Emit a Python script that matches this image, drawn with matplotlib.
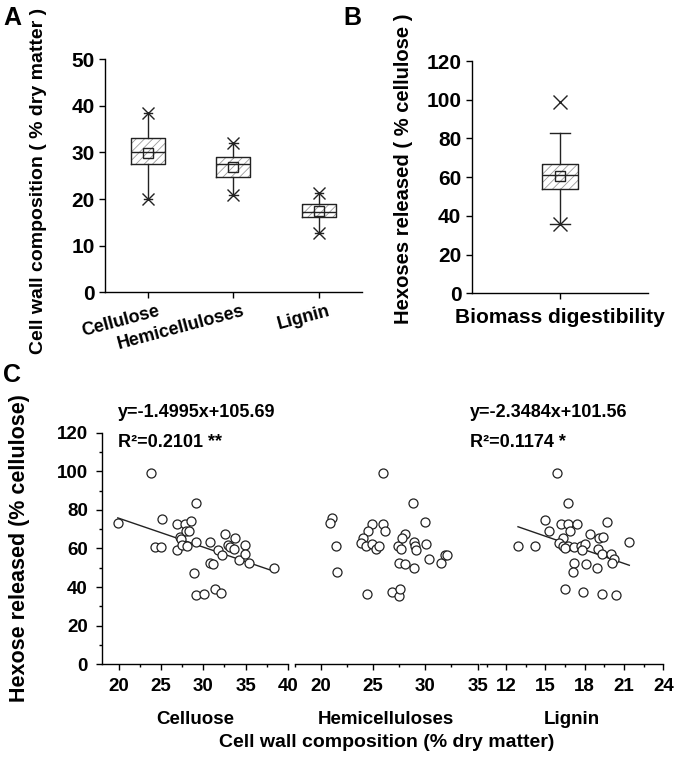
import numpy as np
import matplotlib
matplotlib.use("Agg")
import matplotlib.pyplot as plt
import matplotlib.transforms as mtransforms
from matplotlib.ticker import MultipleLocator

plt.rcParams['font.family'] = ['Liberation Sans', 'DejaVu Sans']
plt.rcParams['font.weight'] = 'bold'
plt.rcParams['hatch.linewidth'] = 0.6
plt.rcParams['axes.linewidth'] = 1.0

# panel A: cell wall composition box stats
comp_names = ['Cellulose', 'Hemicelluloses', 'Lignin']
comp_q1 = [27.5, 24.8, 16.2]
comp_med = [30.1, 27.5, 17.3]
comp_q3 = [33.0, 29.0, 18.9]
comp_mean = [29.9, 26.9, 17.4]
comp_min = [20.0, 20.9, 12.8]
comp_max = [38.4, 32.1, 21.2]

# panel B: hexoses released
dig_q1 = 53.9
dig_med = 61.1
dig_q3 = 66.7
dig_mean = 60.6
dig_whislo = 35.8
dig_whishi = 83.0
dig_min = 35.8
dig_max = 98.8

# panel C: scatter data
cel_x = [19.9, 23.8, 24.3, 25.0, 25.1, 26.9, 26.9, 27.25, 27.4, 27.5, 27.8, 27.9, 28.3,
         28.6, 28.05, 29.1, 29.1, 28.95, 29.1, 30.1, 30.8, 30.8, 31.1, 31.4, 32.1, 31.7,
         32.2, 32.6, 32.9, 33.2, 33.6, 33.7, 34.2, 34.9, 34.9, 35.4, 38.4]
cel_y = [73.2, 99.0, 61.0, 61.0, 75.2, 72.6, 59.3, 66.2, 64.7, 61.8, 72.6, 69.1, 69.1,
         74.0, 61.3, 83.5, 63.5, 47.4, 35.9, 36.2, 63.5, 52.7, 51.8, 38.9, 37.1, 59.3,
         56.6, 67.3, 61.8, 61.0, 59.7, 65.3, 54.0, 61.8, 57.0, 52.3, 49.8]
hemi_x = [21.0, 20.9, 21.4, 21.55, 25.9, 28.8, 30.0, 24.9, 24.5, 25.9, 26.1, 24.0, 23.8,
          24.3, 24.9, 25.3, 25.6, 24.4, 27.4, 27.65, 28.0, 27.8, 27.5, 28.0, 28.9, 29.0,
          29.1, 28.9, 26.76, 27.5, 27.6, 30.1, 30.35, 31.5, 31.9, 32.1]
hemi_y = [75.6, 73.1, 61.3, 47.6, 99.0, 83.6, 73.9, 72.5, 69.3, 72.9, 69.3, 65.3, 63.0,
          61.5, 62.3, 59.6, 61.3, 36.4, 61.3, 59.8, 67.3, 65.3, 52.7, 51.8, 63.6, 61.3,
          59.3, 49.8, 37.3, 35.6, 39.0, 62.3, 54.4, 52.3, 56.8, 56.8]
lig_x = [12.9, 14.2, 15.0, 15.3, 15.87, 16.2, 16.7, 16.7, 17.4, 16.85, 16.3, 16.0, 16.3,
         16.7, 16.5, 17.2, 17.7, 18.0, 17.8, 18.4, 19.1, 19.4, 19.7, 19.0, 19.3, 20.0,
         20.2, 20.1, 21.4, 17.2, 17.1, 18.1, 18.9, 16.5, 17.9, 19.3, 20.4]
lig_y = [61.3, 61.3, 74.9, 69.3, 99.0, 72.7, 83.6, 72.7, 72.5, 69.3, 65.6, 63.0, 61.3,
         61.3, 60.1, 61.0, 61.3, 62.3, 59.3, 67.3, 65.3, 65.8, 73.9, 59.7, 57.0, 57.2,
         54.4, 52.3, 63.5, 52.7, 47.6, 51.8, 49.8, 39.0, 37.3, 36.4, 35.9]

fits = [(-1.4995, 105.69, '0.2101', '**'), None, (-2.3484, 101.56, '0.1174', '*')]

fig = plt.figure(figsize=(6.78, 7.58), dpi=100)


def style_axis(ax, ticksize, pad=3.5):
    for s in ['top', 'right']:
        ax.spines[s].set_visible(False)
    ax.tick_params(direction='out', length=4, width=1, labelsize=ticksize, pad=pad)
    for lab in ax.get_xticklabels() + ax.get_yticklabels():
        lab.set_fontweight('bold')


def draw_boxes(ax, stats, pos, width, capw):
    # hatched fill in grey, then black outline on top
    d = ax.bxp(stats, positions=pos, widths=width, patch_artist=True, showmeans=False,
               showfliers=False, manage_ticks=False,
               boxprops=dict(facecolor='white', edgecolor='#9a9a9a', linewidth=0, hatch='////'))
    for k in ['whiskers', 'caps', 'medians']:
        for l in d[k]:
            l.set_visible(False)
    ax.bxp(stats, positions=pos, widths=width, showmeans=True, showfliers=False,
           manage_ticks=False, capwidths=capw,
           boxprops=dict(color='#222222', linewidth=1.0),
           medianprops=dict(color='#222222', linewidth=1.0),
           whiskerprops=dict(color='#222222', linewidth=1.0),
           capprops=dict(color='#222222', linewidth=1.0),
           meanprops=dict(marker='s', markerfacecolor='none', markeredgecolor='#222222',
                          markersize=7, markeredgewidth=1.0))


# ---- A ----
axA = fig.add_axes([0.1549, 0.6144, 0.3786, 0.3074])
posA = [1, 2, 3]
statsA = []
for i in range(3):
    statsA.append(dict(q1=comp_q1[i], med=comp_med[i], q3=comp_q3[i], mean=comp_mean[i],
                       whislo=comp_min[i], whishi=comp_max[i], fliers=[]))
draw_boxes(axA, statsA, posA, 0.4, 0.1)
axA.plot(posA, comp_min, 'x', color='#222222', ms=8, mew=1.0)
axA.plot(posA, comp_max, 'x', color='#222222', ms=8, mew=1.0)
axA.set_xlim(0.5, 3.5)
axA.set_ylim(0, 50)
axA.set_yticks([0, 10, 20, 30, 40, 50])
axA.set_xticks(posA)
style_axis(axA, 15)
axA.set_xticklabels(comp_names, rotation=15, ha='right', rotation_mode='anchor',
                    fontsize=13, fontweight='bold')
shift = mtransforms.ScaledTranslation(0.09, 0, fig.dpi_scale_trans)
for lab in axA.get_xticklabels():
    lab.set_transform(lab.get_transform() + shift)
axA.set_ylabel('Cell wall composition ( % dry matter )', fontsize=14, fontweight='bold')
axA.yaxis.set_label_coords(-0.225, 0.48)

# ---- B ----
axB = fig.add_axes([0.6957, 0.6131, 0.2605, 0.3064])
statsB = [dict(q1=dig_q1, med=dig_med, q3=dig_q3, mean=dig_mean,
               whislo=dig_whislo, whishi=dig_whishi, fliers=[])]
draw_boxes(axB, statsB, [1], 0.2, 0.11)
axB.plot([1, 1], [dig_min, dig_max], 'x', color='#222222', ms=10, mew=1.0)
axB.set_xlim(0.5, 1.5)
axB.set_ylim(0, 120)
axB.set_yticks(np.arange(0, 121, 20))
axB.set_xticks([1])
axB.set_xticklabels([''])
style_axis(axB, 15)
axB.set_xlabel('Biomass digestibility', fontsize=15, fontweight='bold')
axB.xaxis.set_label_coords(0.5, -0.065)
axB.set_ylabel('Hexoses released ( % cellulose )', fontsize=14.5, fontweight='bold')
axB.yaxis.set_label_coords(-0.335, 0.535)

# ---- C ----
c_rects = [[0.1500, 0.1236, 0.2748, 0.3056],
           [0.4351, 0.1236, 0.2692, 0.3056],
           [0.7080, 0.1236, 0.2704, 0.3056]]
c_x = [cel_x, hemi_x, lig_x]
c_y = [cel_y, hemi_y, lig_y]
c_lims = [(18, 40), (17.5, 35), (10, 24)]
c_major = [5, 5, 3]
c_ticks = [[20, 25, 30, 35, 40], [20, 25, 30, 35], [12, 15, 18, 21, 24]]
c_names = ['Celluose', 'Hemicelluloses', 'Lignin']
eq_x = [0.088, None, -0.055]

for i in range(3):
    ax = fig.add_axes(c_rects[i])
    ax.plot(c_x[i], c_y[i], 'o', mfc='white', mec='#222222', ms=6.5, mew=0.9, zorder=3)
    if fits[i] is not None:
        k, b, r2, star = fits[i]
        xx = np.array([min(c_x[i]), max(c_x[i])])
        ax.plot(xx, k * xx + b, color='#222222', lw=1.0, zorder=2)
        ax.text(eq_x[i], 1.085, 'y=%gx+%g' % (k, b), transform=ax.transAxes,
                fontsize=13, fontweight='bold', va='center', ha='left')
        ax.text(eq_x[i], 0.956, 'R²=%s %s' % (r2, star), transform=ax.transAxes,
                fontsize=13, fontweight='bold', va='center', ha='left')
    ax.set_xlim(*c_lims[i])
    ax.set_ylim(0, 120)
    ax.set_xticks(c_ticks[i])
    ax.xaxis.set_minor_locator(MultipleLocator(c_major[i] / 2))
    if i == 0:
        ax.set_yticks(np.arange(0, 121, 20))
        ax.yaxis.set_minor_locator(MultipleLocator(10))
        ax.set_ylabel('Hexose released (% cellulose)', fontsize=15.5, fontweight='bold')
        ax.yaxis.set_label_coords(-0.385, 0.5)
    else:
        ax.spines['left'].set_visible(False)
        ax.set_yticks([])
        ax.yaxis.set_minor_locator(plt.NullLocator())
    style_axis(ax, 13.5, pad=6)
    ax.tick_params(which='minor', direction='out', length=2.5, width=1)
    ax.set_xlabel(c_names[i], fontsize=13.5, fontweight='bold')
    ax.xaxis.set_label_coords(0.5, -0.2)

fig.text(0.57, 0.021, 'Cell wall composition (% dry matter)', fontsize=14,
         fontweight='bold', ha='center', va='center')

fig.text(0.005, 0.976, 'A', fontsize=18, fontweight='bold', va='center')
fig.text(0.506, 0.976, 'B', fontsize=18, fontweight='bold', va='center')
fig.text(0.005, 0.505, 'C', fontsize=18, fontweight='bold', va='center')

fig.savefig('out.png', dpi=100)
